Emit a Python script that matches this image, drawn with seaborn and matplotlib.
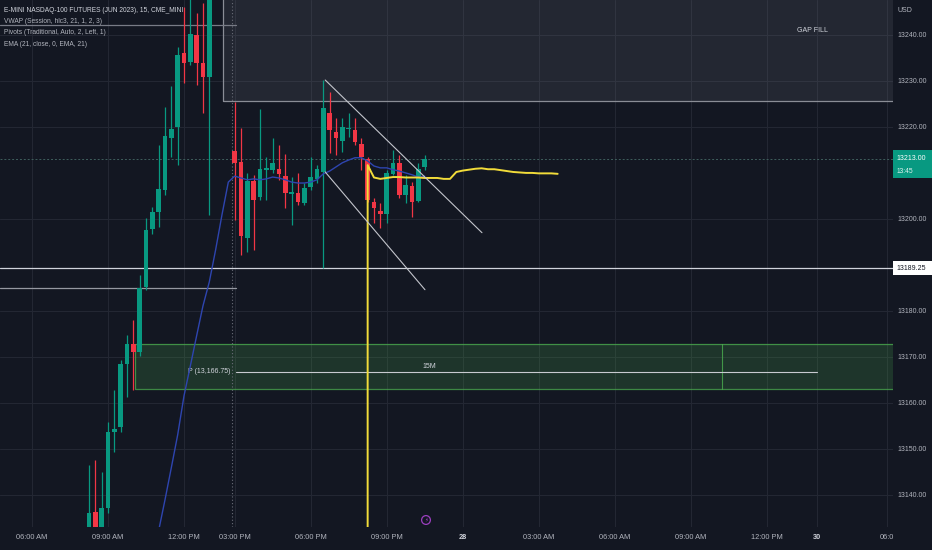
import numpy as np
import pandas as pd
import matplotlib
matplotlib.use("Agg")
import matplotlib.pyplot as plt
import matplotlib.transforms as mtransforms
from matplotlib.patches import Rectangle
import seaborn as sns

# ------------------------------------------------------------------ data
bar_index = [9, 10, 11, 12, 13, 14, 15, 16, 17, 18, 19, 20, 21, 22, 23, 24, 25, 26, 27, 28,
             32, 33, 34, 35, 36, 37, 38, 39, 40, 41, 42, 43, 44, 45, 46, 47, 48, 49, 50,
             51, 52, 53, 54, 55, 56, 57, 58, 59, 60, 61, 62]
opens = [13131.0, 13136.3, 13131.0, 13137.2, 13153.7, 13154.8, 13168.5, 13172.8, 13171.1, 13185.2,
         13197.8, 13201.5, 13206.3, 13217.6, 13220.0, 13236.1, 13234.1, 13240.0, 13233.9, 13230.9,
         13214.8, 13212.4, 13195.9, 13208.3, 13204.8, 13210.7, 13210.7, 13210.9, 13209.3, 13205.4,
         13205.7, 13203.5, 13207.0, 13208.7, 13210.2, 13223.0, 13218.9, 13217.0, 13219.5,
         13219.3, 13216.3, 13213.0, 13203.7, 13201.7, 13201.1, 13209.8, 13212.2, 13205.2, 13207.2,
         13203.9, 13211.3]
highs = [13146.5, 13147.6, 13145.0, 13155.9, 13162.8, 13169.3, 13174.8, 13178.0, 13187.8, 13200.2,
         13202.6, 13216.1, 13224.3, 13228.9, 13237.4, 13246.0, 13248.5, 13244.8, 13247.0, 13256.0,
         13225.4, 13219.8, 13210.0, 13209.6, 13223.9, 13213.5, 13217.6, 13216.1, 13214.1, 13209.1,
         13210.0, 13207.8, 13213.5, 13211.7, 13230.2, 13227.6, 13222.0, 13222.0, 13223.0,
         13222.0, 13217.6, 13213.5, 13204.6, 13203.5, 13210.7, 13215.0, 13213.9, 13209.6, 13208.0,
         13212.2, 13213.9]
lows = [13128.0, 13128.0, 13128.0, 13136.1, 13149.3, 13153.7, 13161.3, 13162.8, 13170.2, 13184.6,
        13196.8, 13198.3, 13205.2, 13213.5, 13211.7, 13229.5, 13233.5, 13229.1, 13223.0, 13200.9,
        13199.8, 13192.2, 13192.8, 13193.3, 13204.1, 13204.1, 13210.0, 13208.5, 13202.4, 13198.7,
        13203.0, 13203.0, 13206.3, 13207.8, 13189.3, 13214.3, 13213.9, 13214.6, 13217.8,
        13216.1, 13210.7, 13203.7, 13199.1, 13198.0, 13199.1, 13209.6, 13204.6, 13203.5, 13200.4,
        13203.7, 13210.7]
closes = [13136.1, 13131.0, 13137.2, 13153.7, 13154.3, 13168.5, 13172.8, 13171.1, 13185.0, 13197.6,
          13201.5, 13206.5, 13218.0, 13219.6, 13235.7, 13233.9, 13240.2, 13233.9, 13230.9, 13252.0,
          13212.2, 13196.3, 13208.3, 13204.1, 13210.9, 13211.1, 13212.2, 13209.8, 13205.7, 13205.7,
          13203.7, 13206.7, 13209.1, 13210.9, 13224.1, 13219.3, 13217.6, 13220.0, 13219.8,
          13216.7, 13213.5, 13204.1, 13202.4, 13201.1, 13210.0, 13212.2, 13205.2, 13207.4, 13203.7,
          13210.9, 13213.0]

ema_bar = list(range(19, 63))
ema_values = [13124.8, 13132.2, 13138.9, 13145.9, 13153.0, 13161.5, 13168.0, 13174.6, 13181.1, 13186.3,
              13193.3, 13200.9, 13208.0, 13209.3, 13208.9, 13208.5, 13208.7, 13208.5, 13208.7, 13209.1,
              13208.9, 13208.5, 13208.0, 13207.8, 13207.8, 13208.0, 13208.5, 13209.8, 13210.4, 13211.3,
              13212.2, 13212.8, 13213.3, 13213.3, 13212.6, 13211.5, 13211.1, 13211.1, 13210.7, 13210.4,
              13210.0, 13209.6, 13209.1, 13209.3]

vwap_bar = [53] + list(range(53, 84))
vwap_values = [13100.0, 13211.7, 13209.0, 13208.7, 13208.9, 13209.1, 13209.1, 13209.0, 13209.0, 13209.0,
               13208.9, 13208.9, 13208.9, 13208.7, 13208.7, 13210.2, 13210.5, 13210.7, 13210.9,
               13211.0, 13210.8, 13210.8, 13210.6, 13210.4, 13210.2, 13210.1, 13210.0, 13210.0,
               13209.9, 13209.9, 13209.9, 13209.8]

tick_bars = [0, 12, 24, 32, 44, 56, 68, 80, 92, 104, 116, 124, 135]
tick_labels = ["06:00 AM", "09:00 AM", "12:00 PM", "03:00 PM", "06:00 PM", "09:00 PM", "28",
               "03:00 AM", "06:00 AM", "09:00 AM", "12:00 PM", "30", "06:0"]
price_ticks = [13140, 13150, 13160, 13170, 13180, 13200, 13220, 13230, 13240]

legend_lines = ["E-MINI NASDAQ-100 FUTURES (JUN 2023), 15, CME_MINI",
                "VWAP (Session, hlc3, 21, 1, 2, 3)",
                "Pivots (Traditional, Auto, 2, Left, 1)",
                "EMA (21, close, 0, EMA, 21)"]

# drawings (bar index / price units)
session_break = 31.6
gap_fill_left, gap_fill_bottom = 30.2, 13225.65
pivot_box_left, pivot_box_bottom, pivot_box_top = 16.3, 13163.0, 13172.8
pivot_level, pivot_line_start, pivot_line_end = 13166.75, 32.2, 124.0
pivot_divider = 108.95
upper_trend = ([46.3, 71.05], [13230.2, 13197.0])
lower_trend = ([46.3, 62.05], [13210.2, 13184.6])
hline_full = 13189.25
hline_left_top, hline_left_low, hline_left_end = 13242.2, 13185.0, 32.2
last_price, last_time = 13213.0, "13:45"
x_range = (-5.05, 135.95)
y_range = (13133.0, 13247.6)

# ------------------------------------------------------------------ style
BG = "#131722"
GRID = "#232733"
TXT = "#b2b5be"
UP, DOWN = "#089981", "#f23645"

sns.set_theme(style="dark", rc={"axes.facecolor": BG, "figure.facecolor": BG,
                                "axes.edgecolor": BG, "grid.color": GRID})
plt.rcParams["font.family"] = ["Liberation Sans", "DejaVu Sans"]

fig = plt.figure(figsize=(9.32, 5.5), dpi=100)
ax = fig.add_axes([0, 23 / 550, 893 / 932, 527 / 550])
ax.set_facecolor(BG)
ax.set_xlim(*x_range)
ax.set_ylim(*y_range)

# grid
for t in tick_bars:
    ax.axvline(t, color=GRID, lw=0.8, zorder=0)
for p in price_ticks:
    ax.axhline(p, color=GRID, lw=0.8, zorder=0)

# rectangles
ax.add_patch(Rectangle((gap_fill_left, gap_fill_bottom), 300, 60, facecolor="#787b86", alpha=0.16,
                       edgecolor="none", zorder=1))
ax.add_patch(Rectangle((gap_fill_left, gap_fill_bottom), 300, 60, facecolor="none",
                       edgecolor="#8a8d96", lw=0.9, zorder=1))
ax.text(123.2, 13240.9, "GAP FILL", color="#d1d4dc", fontsize=5.0, ha="center", va="center", zorder=3)

ax.add_patch(Rectangle((pivot_box_left, pivot_box_bottom), 300, pivot_box_top - pivot_box_bottom,
                       facecolor="#4caf50", alpha=0.2, edgecolor="none", zorder=1))
ax.add_patch(Rectangle((pivot_box_left, pivot_box_bottom), 300, pivot_box_top - pivot_box_bottom,
                       facecolor="none", edgecolor="#4caf50", alpha=0.75, lw=0.9, zorder=1))
ax.plot([pivot_divider, pivot_divider], [pivot_box_bottom, pivot_box_top], color="#4caf50", lw=0.8, alpha=0.8, zorder=2)
ax.plot([pivot_line_start, pivot_line_end], [pivot_level, pivot_level], color="#c8cad0", lw=0.8, zorder=2)
ax.text(session_break - 0.2, pivot_level, "P (13,166.75)", color="#d1d4dc", fontsize=5.0,
        ha="right", va="center", zorder=3)
ax.text(62.8, pivot_level + 1.2, "15M", color="#d1d4dc", fontsize=5.0, ha="center", va="center", zorder=3)

# horizontal lines
ax.axhline(hline_full, color="#d1d4dc", lw=0.9, zorder=2)
ax.plot([x_range[0], hline_left_end], [hline_left_top, hline_left_top], color="#787b86", lw=0.9, zorder=2)
ax.plot([x_range[0], hline_left_end], [hline_left_low, hline_left_low], color="#9598a1", lw=0.9, zorder=2)
ax.axhline(last_price, color="#3f5f5d", lw=0.7, ls=(0, (2, 2)), zorder=1)

# session break
ax.axvline(session_break, color="#6a6d78", lw=0.8, ls=(0, (1, 2)), zorder=1)

# candles
df = pd.DataFrame({"bar": bar_index, "open": opens, "high": highs, "low": lows, "close": closes})
df["color"] = np.where(df["close"] >= df["open"], UP, DOWN)
body_lo = np.minimum(df["open"], df["close"])
body_h = np.maximum(np.abs(df["close"] - df["open"]), 0.35)
ax.vlines(df["bar"], df["low"], df["high"], colors=df["color"], lw=0.9, zorder=3)
ax.bar(df["bar"], body_h, bottom=body_lo, width=0.72, color=df["color"], linewidth=0, zorder=4)

# indicator lines (seaborn)
ema_df = pd.DataFrame({"bar": ema_bar, "value": ema_values})
vwap_df = pd.DataFrame({"bar": vwap_bar, "value": vwap_values})
sns.lineplot(data=ema_df, x="bar", y="value", ax=ax, color="#2e45b0", lw=1.0,
             estimator=None, sort=False, legend=False, zorder=5)
sns.lineplot(data=vwap_df, x="bar", y="value", ax=ax, color="#f2dc3a", lw=1.4,
             estimator=None, sort=False, legend=False, zorder=5)

# trend lines
ax.plot(*upper_trend, color="#c3c5cc", lw=0.8, zorder=6)
ax.plot(*lower_trend, color="#c3c5cc", lw=0.8, zorder=6)

# axes / ticks
ax.set_xlabel("")
ax.set_ylabel("")
ax.set_xticks(tick_bars)
ax.set_xticklabels(tick_labels)
ax.tick_params(axis="x", length=0, pad=5, labelsize=5.3, labelcolor=TXT)
for lbl in ax.get_xticklabels():
    if lbl.get_text() in ("28", "30"):
        lbl.set_fontweight("bold")
        lbl.set_color("#d1d4dc")
ax.yaxis.tick_right()
ax.set_yticks(price_ticks)
ax.set_yticklabels([f"{p:.2f}" for p in price_ticks])
ax.tick_params(axis="y", length=0, pad=3, labelsize=5.0, labelcolor=TXT)
ax.grid(False)
for s in ax.spines.values():
    s.set_visible(False)

# price axis labels
trans = mtransforms.blended_transform_factory(ax.transAxes, ax.transData)
ax.add_patch(Rectangle((1.0, 13208.9), 0.044, 6.1, transform=trans, facecolor=UP,
                       edgecolor="none", clip_on=False, zorder=7))
ax.text(1.0035, last_price + 0.1, f"{last_price:.2f}", transform=trans, color="white",
        fontsize=5.0, va="center", ha="left", clip_on=False, zorder=8)
ax.text(1.0035, last_price - 2.6, last_time, transform=trans, color="#e0f2ef",
        fontsize=4.8, va="center", ha="left", clip_on=False, zorder=8)
ax.add_patch(Rectangle((1.0, hline_full - 1.5), 0.044, 3.0, transform=trans, facecolor="white",
                       edgecolor="none", clip_on=False, zorder=7))
ax.text(1.0035, hline_full, f"{hline_full:.2f}", transform=trans, color=BG,
        fontsize=5.0, va="center", ha="left", clip_on=False, zorder=8)
fig.text(897 / 932, 1 - 10 / 550, "USD", color=TXT, fontsize=5.0, ha="left", va="center")

# lightning icon
ax.scatter([426 / 893], [7 / 527], transform=ax.transAxes, s=40, facecolor="none",
           edgecolor="#9c3fc0", lw=0.9, zorder=8, clip_on=False)
ax.text(426 / 893, 7 / 527, "\u26a1", transform=ax.transAxes, color="#9c3fc0", fontsize=4,
        ha="center", va="center", family="DejaVu Sans", zorder=9, clip_on=False)

# legend lines
for k, line in enumerate(legend_lines):
    fig.text(4 / 932, 1 - (10 + 11.5 * k) / 550, line, color="#d1d4dc" if k == 0 else TXT,
             fontsize=4.8, ha="left", va="center")

fig.savefig("out.png", dpi=100, facecolor=BG)
